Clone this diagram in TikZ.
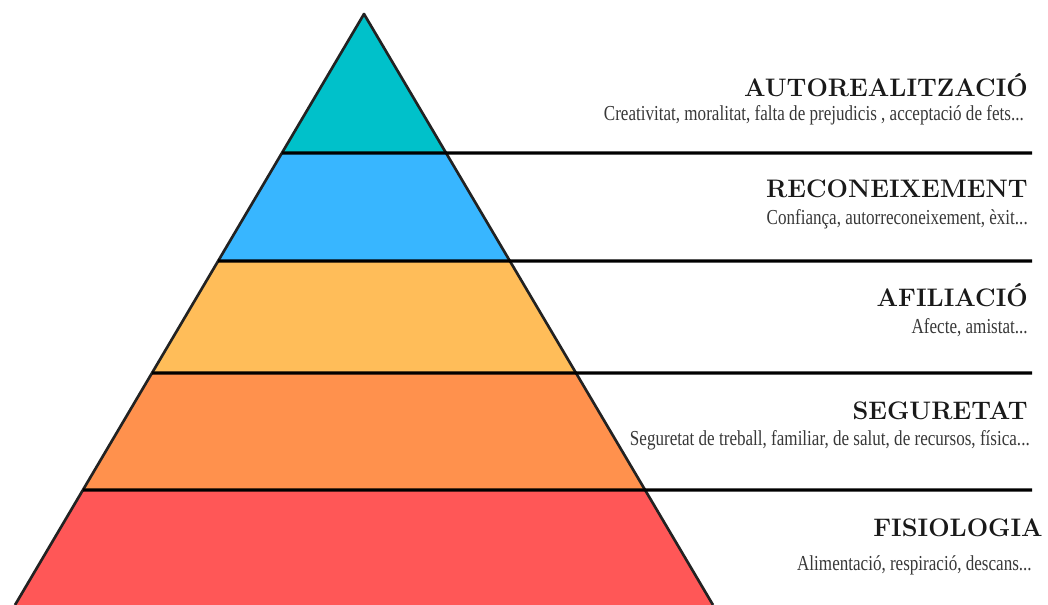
\documentclass[tikz,border=0pt]{standalone}
\usepackage{fontspec}
\usetikzlibrary{calc}
\newfontfamily\subfont[FakeStretch=0.8]{Liberation Serif}
\definecolor{cteal}{HTML}{00C1CA}
\definecolor{cblue}{HTML}{38B6FF}
\definecolor{cyellow}{HTML}{FFBD59}
\definecolor{corange}{HTML}{FF914D}
\definecolor{cred}{HTML}{FF5757}
\definecolor{cedge}{HTML}{222222}
\tikzset{
  title/.style={anchor=base east, inner sep=0pt, font=\bfseries\fontsize{19}{19}\selectfont, text=black!90},
  subtitle/.style={anchor=base east, inner sep=0pt, font=\subfont\fontsize{16}{16}\selectfont, text=black!78},
  levelline/.style={line width=2.4pt, black},
  edge/.style={line width=2pt, cedge, line join=round},
}
\begin{document}
\begin{tikzpicture}[x=0.75pt,y=-0.75pt]
\useasboundingbox (0,0) rectangle (1048,605);
\coordinate (apex) at (364,14);
\coordinate (bl) at (15,605);
\coordinate (br) at (713,605);
\coordinate (l1) at ($(apex)!0.2352!(bl)$);
\coordinate (r1) at ($(apex)!0.2352!(br)$);
\coordinate (l2) at ($(apex)!0.4179!(bl)$);
\coordinate (r2) at ($(apex)!0.4179!(br)$);
\coordinate (l3) at ($(apex)!0.6074!(bl)$);
\coordinate (r3) at ($(apex)!0.6074!(br)$);
\coordinate (l4) at ($(apex)!0.8054!(bl)$);
\coordinate (r4) at ($(apex)!0.8054!(br)$);
\coordinate (e1) at (1032,153);
\coordinate (e2) at (1032,261);
\coordinate (e3) at (1032,373);
\coordinate (e4) at (1032,490);
% layers
\fill[cteal] (apex) -- (r1) -- (l1) -- cycle;
\fill[cblue] (l1) -- (r1) -- (r2) -- (l2) -- cycle;
\fill[cyellow] (l2) -- (r2) -- (r3) -- (l3) -- cycle;
\fill[corange] (l3) -- (r3) -- (r4) -- (l4) -- cycle;
\fill[cred] (l4) -- (r4) -- (br) -- (bl) -- cycle;
% outline
\draw[edge] (bl) -- (apex) -- (br);
% level lines
\draw[levelline] (l1) -- (e1);
\draw[levelline] (l2) -- (e2);
\draw[levelline] (l3) -- (e3);
\draw[levelline] (l4) -- (e4);
% labels
\node[title] (t1) at (1028,97) {AUTOREALITZACIÓ};
\node[subtitle] (s1) at (1024,121) {Creativitat, moralitat, falta de prejudicis , acceptació de fets...};
\node[title] (t2) at (1028,198) {RECONEIXEMENT};
\node[subtitle] (s2) at (1028,225) {Confiança, autorreconeixement, èxit...};
\node[title] (t3) at (1028,307) {AFILIACIÓ};
\node[subtitle] (s3) at (1028,334) {Afecte, amistat...};
\node[title] (t4) at (1028,419) {SEGURETAT};
\node[subtitle] (s4) at (1030,445) {Seguretat de treball, familiar, de salut, de recursos, física...};
\node[title] (t5) at (1043,536) {FISIOLOGIA};
\node[subtitle] (s5) at (1032,570) {Alimentació, respiració, descans...};
\end{tikzpicture}
\end{document}
